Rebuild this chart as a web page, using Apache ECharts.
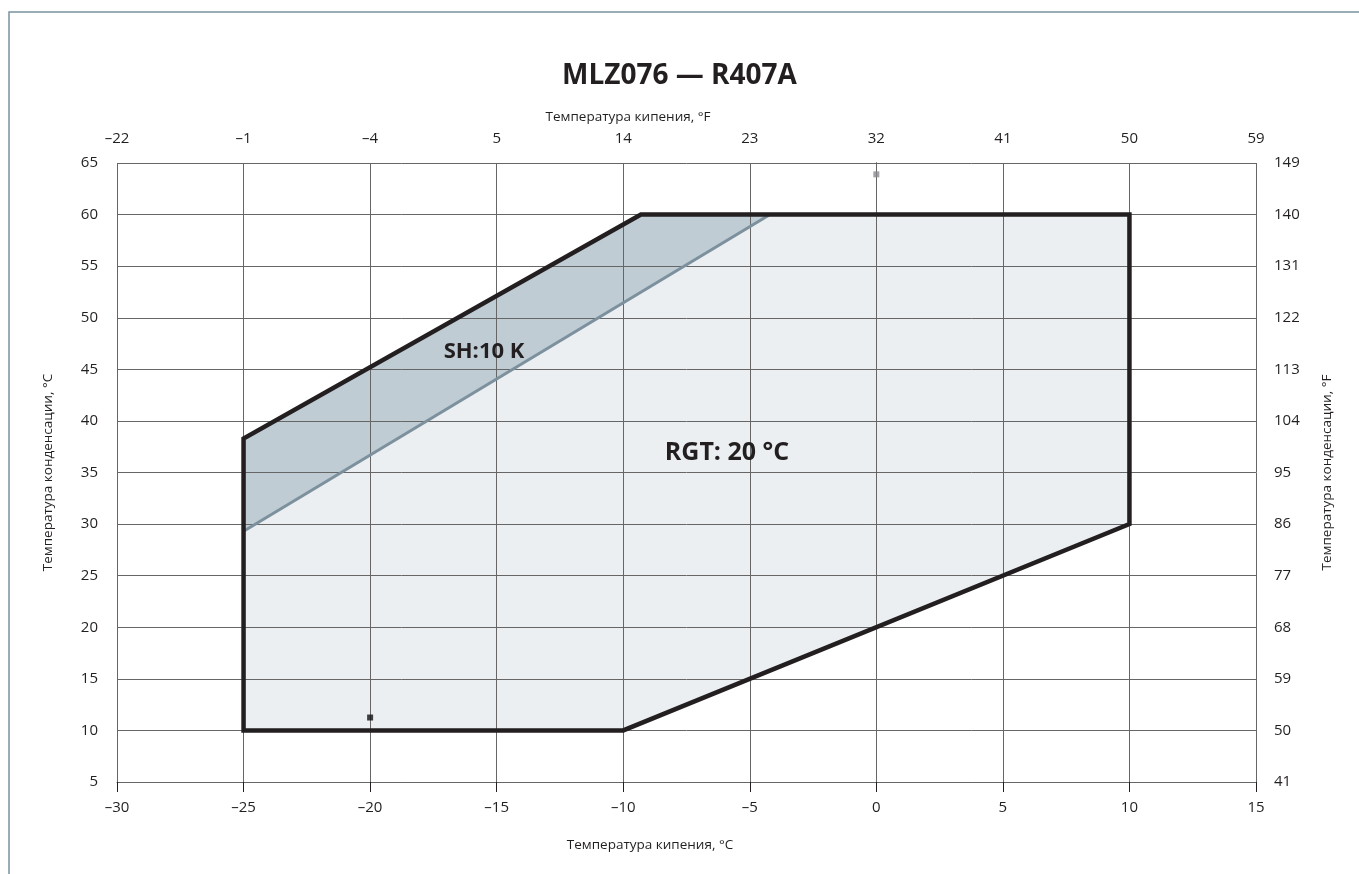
<!DOCTYPE html>
<html>
<head>
<meta charset="utf-8">
<script src="https://cdn.jsdelivr.net/npm/echarts@6/dist/echarts.min.js"></script>
<style>
html,body{margin:0;padding:0;background:#fff;}
#c{width:1359px;height:874px;}
</style>
</head>
<body>
<div id="c"></div>
<script>
// ---- data ----
const evapTicksC = [-30,-25,-20,-15,-10,-5,0,5,10,15];
const evapLabelsF = ['\u201322','\u20131','\u20134','5','14','23','32','41','50','59'];
const condTicksC = [5,10,15,20,25,30,35,40,45,50,55,60,65];
const condLabelsF = ['41','50','59','68','77','86','95','104','113','122','131','140','149'];
const envelope = [[-25,10],[-10,10],[10,30],[10,60],[-9.3,60],[-25,38.3]];
const shZone = [[-25,38.3],[-9.3,60],[-4.2,60],[-25,29.3]];
const shLine = [[-25,29.3],[-4.2,60]];
const markBlack = [[-20,11.25]];
const markGray = [[0,63.9]];
const annotationSH = [{name:'SH:10 K', value:[-15.5,46.7]}];
const annotationRGT = [{name:'RGT: 20 \u00b0C', value:[-5.9,36.9]}];

const txt = '#231f20';
const gridCol = '#666666';
const font = 'Open Sans';
function fmtC(v){ return v < 0 ? '\u2013' + Math.abs(v) : String(v); }

function polyItem(points, style){
  return function(params, api){
    if (params.dataIndex !== 0) return null;
    const pts = points.map(p => api.coord(p));
    return {type:'polygon', shape:{points:pts}, style:style};
  };
}
function polylineItem(points, style){
  return function(params, api){
    if (params.dataIndex !== 0) return null;
    const pts = points.map(p => api.coord(p));
    return {type:'polyline', shape:{points:pts}, style:style};
  };
}

const nameStyle = {fontFamily:font, fontSize:13.5, fill:txt};
const chart = echarts.init(document.getElementById('c'), null, {renderer:'canvas'});
chart.setOption({
  backgroundColor:'#fff',
  animation:false,
  title:{
    text:'MLZ076 \u2014 R407A', left:'center', top:57,
    textStyle:{fontFamily:font, fontWeight:'bold', fontSize:28, color:txt}
  },
  graphic:[
    {type:'polyline', z:100, shape:{points:[[9,874],[9,12],[1359,12]]}, style:{stroke:'#7a939f', lineWidth:1.5, fill:null}},
    {type:'text', z:100, x:628, y:117, style:Object.assign({text:'Температура кипения, \u00b0F', align:'center', verticalAlign:'middle'}, nameStyle)},
    {type:'text', z:100, x:650, y:845, style:Object.assign({text:'Температура кипения, \u00b0C', align:'center', verticalAlign:'middle'}, nameStyle)}
  ],
  grid:{left:117, right:103, top:163, bottom:92},
  xAxis:[
    {
      type:'value', position:'bottom', min:-30, max:15, interval:5, z:3,
      axisLine:{show:true, lineStyle:{color:gridCol, width:1}},
      axisTick:{show:true, length:10, lineStyle:{color:txt, width:1}},
      axisLabel:{margin:18, fontFamily:font, fontSize:15, color:txt, formatter:fmtC},
      splitLine:{show:true, lineStyle:{color:gridCol, width:1}}
    },
    {
      type:'value', position:'top', min:-30, max:15, interval:5, z:3,
      axisLine:{show:false}, axisTick:{show:false},
      axisLabel:{margin:17, fontFamily:font, fontSize:15, color:txt,
        formatter:function(v){ const i = evapTicksC.indexOf(v); return i>=0 ? evapLabelsF[i] : ''; }},
      splitLine:{show:false}
    }
  ],
  yAxis:[
    {
      type:'value', position:'left', min:5, max:65, interval:5, z:3,
      name:'Температура конденсации, \u00b0C', nameLocation:'middle', nameGap:62, nameRotate:90,
      nameTextStyle:{fontFamily:font, fontSize:13.5, color:txt},
      axisLine:{show:true, lineStyle:{color:'#231f20', width:1}},
      axisTick:{show:true, length:10, lineStyle:{color:gridCol, width:1}},
      axisLabel:{margin:19, fontFamily:font, fontSize:15, color:txt, formatter:fmtC},
      splitLine:{show:true, lineStyle:{color:gridCol, width:1}}
    },
    {
      type:'value', position:'right', min:5, max:65, interval:5, z:3,
      name:'Температура конденсации, \u00b0F', nameLocation:'middle', nameGap:64, nameRotate:90,
      nameTextStyle:{fontFamily:font, fontSize:13.5, color:txt},
      axisLine:{show:true, lineStyle:{color:gridCol, width:1}}, axisTick:{show:false},
      axisLabel:{margin:18, fontFamily:font, fontSize:15, color:txt,
        formatter:function(v){ const i = condTicksC.indexOf(v); return i>=0 ? condLabelsF[i] : ''; }},
      splitLine:{show:false}
    }
  ],
  series:[
    {
      type:'custom', name:'envelopeFill', z:1, silent:true,
      renderItem:polyItem(envelope, {fill:'#eceff2', stroke:null}),
      data:[envelope[0]]
    },
    {
      type:'custom', name:'shFill', z:1, silent:true,
      renderItem:polyItem(shZone, {fill:'#bfccd4', stroke:null}),
      data:[shZone[0]]
    },
    {
      type:'custom', name:'shLine', z:5, silent:true,
      renderItem:polylineItem(shLine, {stroke:'#7c919d', lineWidth:3, fill:null}),
      data:[shLine[0]]
    },
    {
      type:'custom', name:'envelope', z:6, silent:true,
      renderItem:polyItem(envelope, {fill:null, stroke:'#231f20', lineWidth:4.5, lineJoin:'miter'}),
      data:[envelope[0]]
    },
    {
      type:'scatter', name:'markBlack', z:7, silent:true, symbol:'rect', symbolSize:6,
      itemStyle:{color:'#111'}, data:markBlack
    },
    {
      type:'scatter', name:'markGray', z:7, silent:true, symbol:'rect', symbolSize:6,
      itemStyle:{color:'#8a8a8e'}, data:markGray
    },
    {
      type:'scatter', name:'labelSH', z:8, silent:true, symbolSize:1, itemStyle:{opacity:0},
      data:annotationSH,
      label:{show:true, position:'inside', formatter:'{b}', fontFamily:font, fontWeight:'bold', fontSize:22, color:'#231f20', opacity:1}
    },
    {
      type:'scatter', name:'labelRGT', z:8, silent:true, symbolSize:1, itemStyle:{opacity:0},
      data:annotationRGT,
      label:{show:true, position:'inside', formatter:'{b}', fontFamily:font, fontWeight:'bold', fontSize:25, color:'#231f20', opacity:1}
    }
  ]
});
</script>
</body>
</html>
